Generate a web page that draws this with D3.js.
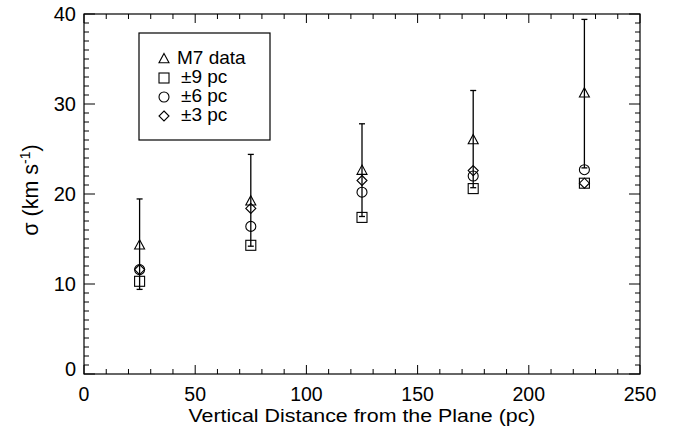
<!DOCTYPE html>
<html>
<head>
<meta charset="utf-8">
<script src="https://cdn.jsdelivr.net/npm/d3@7"></script>
<style>
  body { margin: 0; background: #fff; }
  svg { font-family: "Liberation Sans", Arial, sans-serif; }
</style>
</head>
<body>
<div id="chart"></div>
<script>
// data
var distances = [25, 75, 125, 175, 225];
var m7Data   = [14.3, 19.2, 22.6, 26.0, 31.2];
var m7Low    = [9.4, 14.2, 17.5, 20.7, 22.9];
var m7High   = [19.45, 24.4, 27.8, 31.5, 39.4];
var pc9      = [10.3, 14.3, 17.4, 20.6, 21.2];
var pc6      = [11.6, 16.4, 20.2, 22.0, 22.7];
var pc3      = [11.6, 18.4, 21.5, 22.6, 21.2];
var xTicks = [0, 50, 100, 150, 200, 250];
var yTicks = [0, 10, 20, 30, 40];
var legendLabels = ["M7 data", "\u00b19 pc", "\u00b16 pc", "\u00b13 pc"];

var margin = { top: 14, right: 46, bottom: 56, left: 84 },
    width = 686 - margin.left - margin.right,
    height = 430 - margin.top - margin.bottom;

var svg = d3.select("#chart")
    .append("svg")
    .attr("width", 686)
    .attr("height", 430)
    .append("g")
    .attr("transform", "translate(" + margin.left + "," + margin.top + ")");

var x = d3.scaleLinear().domain([0, 250]).range([0, width]);
var y = d3.scaleLinear().domain([0, 40]).range([height, 0]);

// frame
svg.append("rect")
    .attr("width", width).attr("height", height)
    .attr("fill", "none").attr("stroke", "#000").attr("stroke-width", 1.2);

// ticks (pointing inward on all four sides)
var xMinor = d3.range(0, 251, 10);
var yMinor = d3.range(0, 41, 1);
function tickLen(v, majors, big, small) { return majors.indexOf(v) >= 0 ? big : small; }

svg.append("g").selectAll("line").data(xMinor).enter().append("line")
    .attr("x1", d => x(d)).attr("x2", d => x(d))
    .attr("y1", height).attr("y2", d => height - tickLen(d, xTicks, 9, 5))
    .attr("stroke", "#000");
svg.append("g").selectAll("line").data(xMinor).enter().append("line")
    .attr("x1", d => x(d)).attr("x2", d => x(d))
    .attr("y1", 0).attr("y2", d => tickLen(d, xTicks, 9, 5))
    .attr("stroke", "#000");
svg.append("g").selectAll("line").data(yMinor).enter().append("line")
    .attr("y1", d => y(d)).attr("y2", d => y(d))
    .attr("x1", 0).attr("x2", d => tickLen(d, yTicks, 11, 5))
    .attr("stroke", "#000");
svg.append("g").selectAll("line").data(yMinor).enter().append("line")
    .attr("y1", d => y(d)).attr("y2", d => y(d))
    .attr("x1", width).attr("x2", d => width - tickLen(d, yTicks, 11, 5))
    .attr("stroke", "#000");

// tick labels
svg.append("g").selectAll("text").data(xTicks).enter().append("text")
    .attr("x", d => x(d)).attr("y", height + 27)
    .attr("text-anchor", "middle")
    .style("font-size", "19.5px")
    .text(d => d);
svg.append("g").selectAll("text").data(yTicks).enter().append("text")
    .attr("x", -8).attr("y", d => y(d) + 7 - (d === 0 ? 5 : 0))
    .attr("text-anchor", "end")
    .style("font-size", "20px")
    .text(d => d);

// axis titles (the original font is drawn wide, so stretch it to the same length)
svg.append("text")
    .attr("x", width / 2).attr("y", height + 48)
    .attr("text-anchor", "middle")
    .attr("textLength", 347)
    .attr("lengthAdjust", "spacingAndGlyphs")
    .style("font-size", "17.5px")
    .text("Vertical Distance from the Plane (pc)");

var yl = svg.append("text")
    .attr("transform", "translate(-46,176) rotate(-90)")
    .attr("text-anchor", "middle")
    .style("font-size", "21.5px");
yl.append("tspan").text("\u03c3 (km s");
yl.append("tspan").attr("dy", -8).style("font-size", "14px").text("-1");
yl.append("tspan").attr("dy", 8).text(")");

// markers
function drawSym(x0, y0, kind, g) {
    var s = 5;
    if (kind === "tri") {
        g.append("path")
            .attr("d", "M" + x0 + "," + (y0 - s * 1.1) + "L" + (x0 + s) + "," + (y0 + s * 0.75) + "L" + (x0 - s) + "," + (y0 + s * 0.75) + "Z")
            .attr("fill", "none").attr("stroke", "#000").attr("stroke-width", 1.1);
    } else if (kind === "sq") {
        g.append("rect").attr("x", x0 - s).attr("y", y0 - s).attr("width", 2 * s).attr("height", 2 * s)
            .attr("fill", "none").attr("stroke", "#000").attr("stroke-width", 1.1);
    } else if (kind === "circ") {
        g.append("circle").attr("cx", x0).attr("cy", y0).attr("r", s)
            .attr("fill", "none").attr("stroke", "#000").attr("stroke-width", 1.1);
    } else {
        g.append("path")
            .attr("d", "M" + x0 + "," + (y0 - s) + "L" + (x0 + s) + "," + y0 + "L" + x0 + "," + (y0 + s) + "L" + (x0 - s) + "," + y0 + "Z")
            .attr("fill", "none").attr("stroke", "#000").attr("stroke-width", 1.1);
    }
}

var marks = svg.append("g");

// error bars
distances.forEach(function (d, i) {
    marks.append("line")
        .attr("x1", x(d)).attr("x2", x(d))
        .attr("y1", y(m7Low[i])).attr("y2", y(m7High[i]))
        .attr("stroke", "#000").attr("stroke-width", 1.3);
    [m7Low[i], m7High[i]].forEach(function (v) {
        marks.append("line")
            .attr("x1", x(d) - 3).attr("x2", x(d) + 3)
            .attr("y1", y(v)).attr("y2", y(v))
            .attr("stroke", "#000").attr("stroke-width", 1.3);
    });
});

var series = [
    { values: m7Data, kind: "tri" },
    { values: pc9, kind: "sq" },
    { values: pc6, kind: "circ" },
    { values: pc3, kind: "dia" }
];
series.forEach(function (s) {
    distances.forEach(function (d, i) {
        drawSym(x(d), y(s.values[i]), s.kind, marks);
    });
});

// legend
var leg = svg.append("g").attr("transform", "translate(55,19)");
leg.append("rect")
    .attr("width", 131).attr("height", 107)
    .attr("fill", "#fff").attr("stroke", "#000").attr("stroke-width", 1.2);
series.forEach(function (s, i) {
    var cy = 26 + i * 19;
    drawSym(25, cy, s.kind, leg);
    leg.append("text")
        .attr("x", i === 0 ? 38 : 42).attr("y", cy + 5)
        .style("font-size", "19px")
        .text(legendLabels[i]);
});
</script>
</body>
</html>
